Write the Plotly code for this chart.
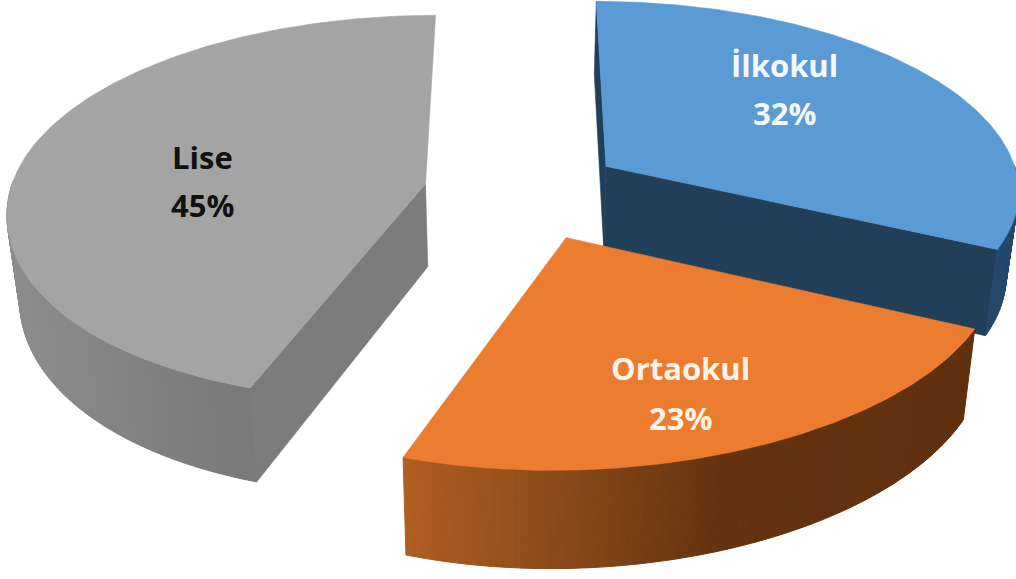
import numpy as np
import plotly.graph_objects as go

# Chart data
categories = ["İlkokul", "Ortaokul", "Lise"]
shares = [32, 23, 45]

# Styling per slice
top_colors = ["#5b9bd5", "#ec7c30", "#a4a4a4"]
cut_colors = ["#223f5a", "#8a4a1a", "#7c7c7c"]
wall_stops = [
    [(900, "#25486b"), (1020, "#25486b")],
    [(405, "#b05e22"), (560, "#8a4a1a"), (720, "#65330f"), (980, "#5f2f0e")],
    [(10, "#8c8c8c"), (130, "#828282"), (255, "#787878")],
]
text_colors = ["#f4f8fc", "#fdf3e6", "#111111"]
explode = [107, 120, 93]
draw_order = [2, 0, 1]
# Which radial faces of each slice turn towards the viewer (0 = start, -1 = end)
visible_cuts = [(0, -1), (), (0,)]

# Label centres (name line, value line)
label_x = [784, 680, 202]
label_y_name = [65, 368, 157]
label_y_value = [113, 418, 205]

# Perspective model of the tilted pie
VP_X, VP_Y = 517.0, -1350.0
BASE_Y = 190.0
DEPTH = 3670.0
RADIUS_X = 415.0
RADIUS_Y = 455.0
NEAR_SKEW = 0.04
SHRINK_X = 0.975
GROW_Y = 1.054
STRIPS = 180


def project(gx, gy, bottom=False):
    s = 1.0 / (1.0 - gy / DEPTH)
    x = gx * s
    y = (BASE_Y - VP_Y) * s
    if bottom:
        x *= SHRINK_X
        y *= GROW_Y
    return VP_X + x, VP_Y + y


def hex_rgb(c):
    return np.array([int(c[i:i + 2], 16) for i in (1, 3, 5)], float)


def ramp(stops, x):
    xs = [p for p, _ in stops]
    rgb = np.array([hex_rgb(c) for _, c in stops])
    vals = [np.interp(x, xs, rgb[:, k]) for k in range(3)]
    return "rgb({:.0f},{:.0f},{:.0f})".format(*vals)


def polygon(xs, ys, color, width=1.0):
    return go.Scatter(
        x=list(xs) + [xs[0]], y=list(ys) + [ys[0]],
        mode="lines", fill="toself", fillcolor=color,
        line=dict(color=color, width=width),
        hoverinfo="skip", showlegend=False,
    )


total = sum(shares)
bounds = np.concatenate([[0], np.cumsum(shares)]) / total * 2 * np.pi

fig = go.Figure()
for i in draw_order:
    a0, a1 = bounds[i], bounds[i + 1]
    mid = (a0 + a1) / 2
    cx, cy = explode[i] * np.sin(mid), -explode[i] * np.cos(mid)
    angles = np.linspace(a0, a1, STRIPS + 1)
    near = np.clip(-np.cos(angles), 0, None)
    gx = cx + RADIUS_X * np.sin(angles) - NEAR_SKEW * RADIUS_Y * near ** 2
    gy = cy - RADIUS_Y * np.cos(angles)

    tx, ty = project(gx, gy)
    bx, by = project(gx, gy, bottom=True)
    ax_t, ay_t = project(cx, cy)
    ax_b, ay_b = project(cx, cy, bottom=True)

    # Radial cut faces
    for e in visible_cuts[i]:
        fig.add_trace(polygon([ax_t, tx[e], bx[e], ax_b],
                              [ay_t, ty[e], by[e], ay_b], cut_colors[i], 0.6))
    # Curved outer wall on the near half, shaded strip by strip
    for k in range(STRIPS):
        if near[k] <= 0 and near[k + 1] <= 0:
            continue
        color = ramp(wall_stops[i], (tx[k] + tx[k + 1]) / 2)
        fig.add_trace(polygon([tx[k], tx[k + 1], bx[k + 1], bx[k]],
                              [ty[k], ty[k + 1], by[k + 1], by[k]], color, 1.0))
    # Top face
    fig.add_trace(polygon([ax_t, *tx], [ay_t, *ty], top_colors[i], 0.6))

for i, name in enumerate(categories):
    for text, y in ((name, label_y_name[i]), (f"{shares[i]}%", label_y_value[i])):
        fig.add_annotation(
            x=label_x[i], y=y, text=text, showarrow=False,
            xref="x", yref="y", xanchor="center", yanchor="middle",
            font=dict(family="Open Sans", size=31, color=text_colors[i], weight="bold"),
        )

fig.update_layout(
    width=1016, height=579,
    margin=dict(l=0, r=0, t=0, b=0),
    paper_bgcolor="white", plot_bgcolor="white",
    showlegend=False,
    xaxis=dict(range=[0, 1016], visible=False, fixedrange=True),
    yaxis=dict(range=[579, 0], visible=False, fixedrange=True),
)
fig.write_html("out.html", config={"displayModeBar": False})
